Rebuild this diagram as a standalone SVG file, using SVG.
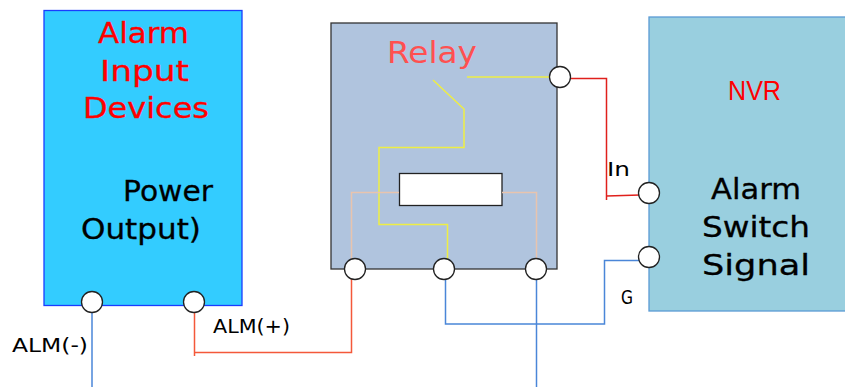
<svg xmlns="http://www.w3.org/2000/svg" width="845" height="387" viewBox="0 0 845 387">
<style>
text{font-family:"DejaVu Sans","Liberation Sans",sans-serif;fill:#000}
.big{font-size:29px;stroke:#000;stroke-width:.3}
.red{fill:#f00;stroke:#f00}
.lab{font-size:20px}
.port{fill:#fff;stroke:#222;stroke-width:1.3}
.w{fill:none;stroke-width:1.5}
.y{stroke:#eeee44}
.t{stroke:#e8c4ae}
.r{stroke:#e0201c}
.o{stroke:#f4583a}
.b{stroke:#4a86d8}
</style>
<rect width="845" height="387" fill="#fff"/>
<g id="alarm-input">
<rect x="44" y="10.500" width="198" height="295" fill="#33ccff" stroke="#1a3cff" stroke-width="1.300"/>
<text class="big red" x="98" y="43" textLength="91" lengthAdjust="spacingAndGlyphs">Alarm</text>
<text class="big red" x="100" y="81" textLength="89" lengthAdjust="spacingAndGlyphs">Input</text>
<text class="big red" x="83" y="118" textLength="126" lengthAdjust="spacingAndGlyphs">Devices</text>
<text class="big" x="123" y="201" textLength="90" lengthAdjust="spacingAndGlyphs">Power</text>
<text class="big" x="81" y="239" textLength="120" lengthAdjust="spacingAndGlyphs">Output)</text>
</g>
<g id="relay">
<rect x="331" y="23" width="226" height="246" fill="#b0c4de" stroke="#333" stroke-width="1.300"/>
<text x="387" y="63" font-size="30" textLength="90" lengthAdjust="spacingAndGlyphs" style="fill:#ff5050">Relay</text>
<rect id="coil" x="399.500" y="173.500" width="102.500" height="32" fill="#fff" stroke="#222" stroke-width="1.300"/>
</g>
<g id="nvr">
<rect x="649" y="17" width="200" height="294" fill="#99cfdf" stroke="#5b9bd5" stroke-width="1.300"/>
<text x="728" y="100" font-size="28" textLength="53" lengthAdjust="spacingAndGlyphs" style="font-family:'Liberation Sans',sans-serif;fill:#f00">NVR</text>
<text class="big" x="711" y="199" textLength="90" lengthAdjust="spacingAndGlyphs">Alarm</text>
<text class="big" x="702" y="237" textLength="108" lengthAdjust="spacingAndGlyphs">Switch</text>
<text class="big" x="702" y="275" textLength="108" lengthAdjust="spacingAndGlyphs">Signal</text>
</g>
<g id="connectors">
<path class="w y" d="M467 77H550"/>
<path class="w y" d="M433 80L464 109V147.500H379V224.500H447.500V260"/>
<path class="w t" d="M351.500 260V192.500H399"/>
<path class="w t" d="M502 192.500H536.500V260"/>
<path class="w o" d="M194.500 312V356M194.500 352.500H351.500V279"/>
<path class="w b" d="M92 312V387"/>
<path class="w b" d="M445.500 279V324H604.500V260.500H640"/>
<path class="w b" d="M536.500 279V387"/>
<path class="w r" d="M570 78.500H606.500V200M606.500 196L640 195"/>
</g>
<g id="ports">
<circle id="p1" class="port" cx="92" cy="302" r="10.500"/>
<circle id="p2" class="port" cx="194" cy="302" r="10.500"/>
<circle id="p3" class="port" cx="355" cy="269" r="10.500"/>
<circle id="p4" class="port" cx="444" cy="269" r="10.500"/>
<circle id="p5" class="port" cx="536" cy="269" r="10.500"/>
<circle id="p6" class="port" cx="560" cy="77" r="10.500"/>
<circle id="p7" class="port" cx="649" cy="193" r="10.500"/>
<circle id="p8" class="port" cx="649" cy="257" r="10.500"/>
</g>
<g id="labels">
<text class="lab" x="12" y="352" textLength="76" lengthAdjust="spacingAndGlyphs">ALM(-)</text>
<text class="lab" x="213" y="333" textLength="77" lengthAdjust="spacingAndGlyphs">ALM(+)</text>
<text class="lab" x="607" y="176" textLength="23" lengthAdjust="spacingAndGlyphs">In</text>
<text x="621" y="304" font-size="19" textLength="12" lengthAdjust="spacingAndGlyphs">G</text>
</g>
</svg>
